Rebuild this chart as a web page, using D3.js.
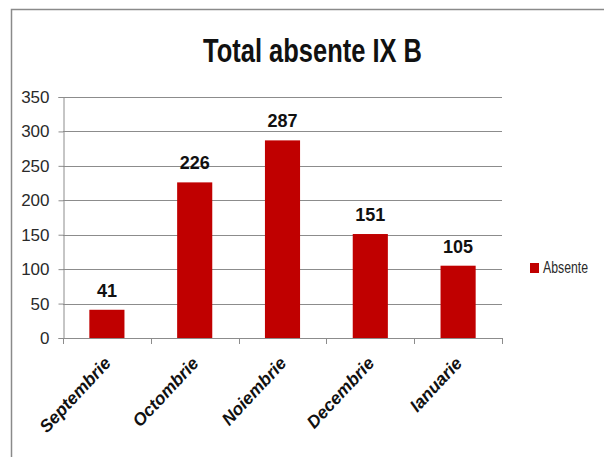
<!DOCTYPE html>
<html>
<head>
<meta charset="utf-8">
<script src="https://cdn.jsdelivr.net/npm/d3@7"></script>
<style>
  body { margin: 0; background: white; }
</style>
</head>
<body>
<div id="container"></div>
<script>
let w = 604;
let h = 457;

// data
let months = ["Septembrie", "Octombrie", "Noiembrie", "Decembrie", "Ianuarie"];
let absente = [41, 226, 287, 151, 105];
let yTicks = [0, 50, 100, 150, 200, 250, 300, 350];

let narrow = "'Liberation Sans Narrow', 'Arial Narrow', sans-serif";

let viz = d3.select("#container").append("svg")
    .attr("width", w)
    .attr("height", h)
    .style("background-color", "white")
;

// outer frame
viz.append("rect")
    .attr("x", 11.5).attr("y", 9.5)
    .attr("width", 620).attr("height", 470)
    .attr("fill", "none")
    .attr("stroke", "#8a8a8a")
    .attr("stroke-width", 1.5);

let x = d3.scaleBand()
    .domain(months)
    .range([63, 502])
    .paddingInner(0.6)
    .paddingOuter(0.3);

let y = d3.scaleLinear()
    .domain([0, 350])
    .range([338, 97]);

// gridlines
viz.selectAll(".grid").data(yTicks).enter()
  .append("line")
    .attr("x1", 63).attr("x2", 502)
    .attr("y1", d => Math.round(y(d)) + 0.5)
    .attr("y2", d => Math.round(y(d)) + 0.5)
    .attr("stroke", "#8c8c8c")
    .attr("stroke-width", 1);

// y axis
let yAxis = viz.append("g")
    .attr("transform", "translate(63.5,0)")
    .call(d3.axisLeft(y).tickValues(yTicks).tickSize(5).tickPadding(9));
yAxis.select(".domain").attr("stroke", "#8c8c8c");
yAxis.selectAll(".tick line").attr("stroke", "#8c8c8c");
yAxis.selectAll(".tick text")
    .attr("fill", "#2a2a2a")
    .style("font-family", narrow)
    .style("font-size", "17px");

// x axis baseline + ticks at band edges
let step = x.step();
let edges = d3.range(months.length + 1).map(i => 63 + i * step);
viz.append("line")
    .attr("x1", 63).attr("x2", 502)
    .attr("y1", 338.5).attr("y2", 338.5)
    .attr("stroke", "#8c8c8c");
viz.selectAll(".xtick").data(edges).enter()
  .append("line")
    .attr("x1", d => Math.round(d) + 0.5).attr("x2", d => Math.round(d) + 0.5)
    .attr("y1", 338).attr("y2", 344)
    .attr("stroke", "#8c8c8c");

// x labels, rotated
viz.selectAll(".xlabel").data(months).enter()
  .append("text")
    .attr("transform", d => "translate(" + (x(d) + x.bandwidth() / 2 + 5) + ",364) rotate(-47)")
    .attr("text-anchor", "end")
    .style("font-family", "Arial, 'Liberation Sans', sans-serif")
    .style("font-weight", "bold")
    .style("font-style", "italic")
    .style("font-size", "17.5px")
    .attr("fill", "#111")
    .text(d => d);

// bars
viz.selectAll(".bar").data(absente).enter()
  .append("rect")
    .attr("x", (d, i) => x(months[i]))
    .attr("y", d => y(d))
    .attr("width", x.bandwidth())
    .attr("height", d => y(0) - y(d))
    .attr("fill", "#c00000");

// value labels
viz.selectAll(".val").data(absente).enter()
  .append("text")
    .attr("x", (d, i) => x(months[i]) + x.bandwidth() / 2)
    .attr("y", d => y(d) - 13)
    .attr("text-anchor", "middle")
    .style("font-family", "Arial, 'Liberation Sans', sans-serif")
    .style("font-weight", "bold")
    .style("font-size", "18px")
    .attr("fill", "#111")
    .text(d => d);

// title
viz.append("text")
    .attr("x", 203).attr("y", 62)
    .attr("textLength", 219)
    .attr("lengthAdjust", "spacingAndGlyphs")
    .style("font-family", narrow)
    .style("font-weight", "bold")
    .style("font-size", "34px")
    .attr("fill", "#111")
    .text("Total absente IX B");

// legend
viz.append("rect")
    .attr("x", 530).attr("y", 263)
    .attr("width", 9).attr("height", 10)
    .attr("fill", "#c00000");
viz.append("text")
    .attr("x", 543).attr("y", 273)
    .attr("textLength", 45)
    .attr("lengthAdjust", "spacingAndGlyphs")
    .style("font-family", narrow)
    .style("font-size", "16px")
    .attr("fill", "#2a2a2a")
    .text("Absente");
</script>
</body>
</html>
